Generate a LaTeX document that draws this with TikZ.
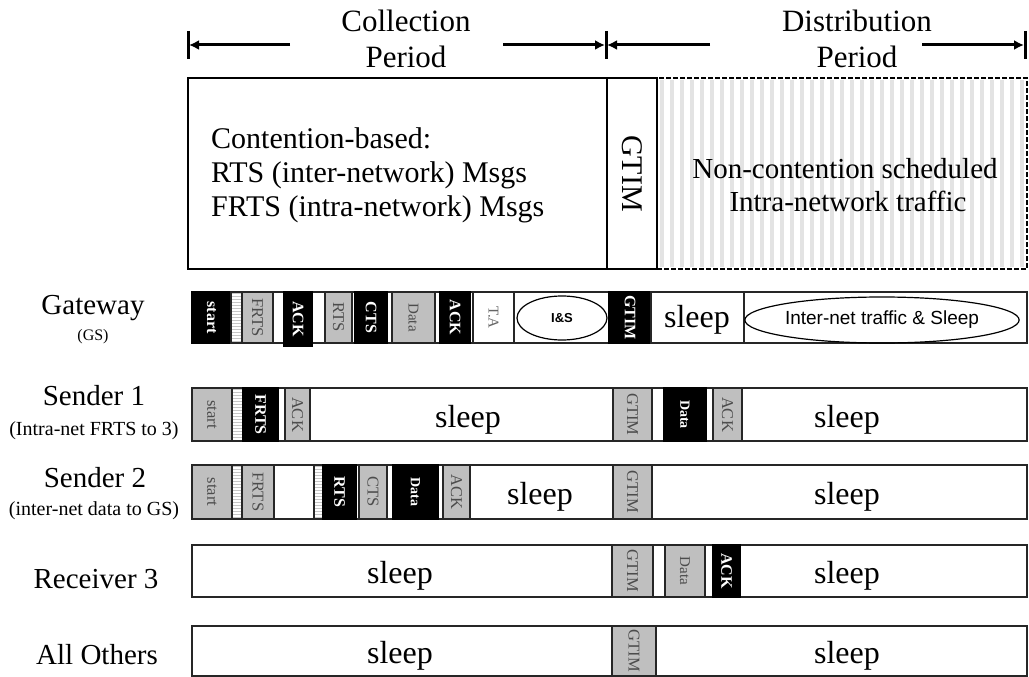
\documentclass[tikz,border=0pt]{standalone}
\usepackage{fontspec}
\setmainfont{Liberation Serif}
\newfontfamily\sansfam{Liberation Sans}
\usetikzlibrary{arrows.meta,shapes.geometric}
\newcommand{\fsz}[1]{\fontsize{#1}{#1}\selectfont}
% rotated cell: name x1 x2 y1 y2 style text
\newcommand{\cel}[7]{\pgfmathsetmacro\celw{#3-#2}\pgfmathsetmacro\celh{#5-#4}%
  \node[#6, rotate=-90, minimum width=\celh pt, minimum height=\celw pt] (#1) at ({(#2+#3)/2},{(#4+#5)/2}) {#7};}
% upright box: name x1 x2 y1 y2 style text
\newcommand{\bx}[7]{\pgfmathsetmacro\celw{#3-#2}\pgfmathsetmacro\celh{#5-#4}%
  \node[#6, minimum width=\celw pt, minimum height=\celh pt] (#1) at ({(#2+#3)/2},{(#4+#5)/2}) {#7};}
\tikzset{
  hdr/.style={font=\fsz{31}, inner sep=0},
  per/.style={line width=3pt, -{Latex[length=10pt,width=10pt]}},
  barline/.style={line width=3pt},
  bigbox/.style={draw=black, line width=2.5pt, inner sep=0},
  bigdash/.style={draw=black, line width=2.5pt, dash pattern=on 5pt off 2pt, inner sep=0},
  bigtxt/.style={font=\fsz{30}, inner sep=0},
  rowbox/.style={draw=black!85, line width=1.5pt, fill=white, inner sep=0},
  blk/.style={draw=black, line width=1.2pt, fill=black, text=white, font=\fsz{16}\bfseries, inner sep=0},
  gry/.style={draw=black!85, line width=1.2pt, fill=gray!50, text=black!70, font=\fsz{16.5}, inner sep=0},
  wht/.style={draw=black!85, line width=1.2pt, fill=white, text=black!60, font=\fsz{15}, inner sep=0},
  stripe/.style={draw=black!85, line width=1.2pt, fill=white, inner sep=0,
    path picture={\foreach \k in {1.5,4.5,...,60}{\draw[gray!45, line width=1.2pt]
      ([yshift=-\k pt]path picture bounding box.north west) -- ([yshift=-\k pt]path picture bounding box.north east);}}},
  oval/.style={ellipse, draw=black, line width=1.2pt, inner sep=0},
  slp/.style={font=\fsz{32}, inner sep=0},
  lbl/.style={font=\fsz{29}, inner sep=0},
  sublbl/.style={font=\fsz{20}, inner sep=0}
}
\begin{document}
\begin{tikzpicture}[x=1pt,y=-1pt]
\useasboundingbox (0,0) rectangle (1029,677);
% ---- period headers
\node[hdr, anchor=base] (colt) at (406,32) {Collection};
\node[hdr, anchor=base] (colp) at (406,67) {Period};
\node[hdr, anchor=base] (dstt) at (857,32) {Distribution};
\node[hdr, anchor=base] (dstp) at (857,67) {Period};
\coordinate (cL) at (189,45); \coordinate (cLa) at (290,45);
\coordinate (cRa) at (503,45); \coordinate (cR) at (605,45);
\coordinate (dLa) at (710,45); \coordinate (dRa) at (922,45);
\coordinate (dR) at (1024,45);
\coordinate (bAt) at (188,31); \coordinate (bAb) at (188,59);
\coordinate (bBt) at (606,31); \coordinate (bBb) at (606,59);
\coordinate (bCt) at (1025,31); \coordinate (bCb) at (1025,59);
\draw[barline] (bAt) -- (bAb);
\draw[barline] (bBt) -- (bBb);
\draw[barline] (bCt) -- (bCb);
\draw[per] (cLa) -- (cL);
\draw[per] (cRa) -- (cR);
\draw[per] (dLa) -- ([xshift=2pt]cR);
\draw[per] (dRa) -- (dR);
% ---- big box
\foreach \sx in {662,672,...,1022} \draw[gray!22, line width=4pt] (\sx,80) -- (\sx,267);
\bx{coll}{188}{607}{78}{269}{bigbox}{}
\bx{dist}{657}{1027}{78}{269}{bigdash}{}
\cel{gtimbig}{607}{657}{78}{269}{bigbox, font=\fsz{30}}{GTIM}
\node[bigtxt, anchor=base west] (ctA) at (211,148) {Contention-based:};
\node[bigtxt, anchor=base west] (ctB) at (211,182) {RTS (inter-network) Msgs};
\node[bigtxt, anchor=base west] (ctC) at (211,216) {FRTS (intra-network) Msgs};
\node[bigtxt, font=\fsz{29}, anchor=base] (ncA) at (845,178) {Non-contention scheduled};
\node[bigtxt, font=\fsz{29}, anchor=base] (ncB) at (848,211) {Intra-network traffic};
% ---- row labels
\node[lbl, anchor=base] (lgw) at (93,314) {Gateway};
\node[sublbl, font=\fsz{16}, anchor=base] (lgws) at (93,340) {(GS)};
\node[lbl, anchor=base] (lsa) at (94,405) {Sender 1};
\node[sublbl, anchor=base] (lsas) at (94,435) {(Intra-net FRTS to 3)};
\node[lbl, anchor=base] (lsb) at (95,487) {Sender 2};
\node[sublbl, anchor=base] (lsbs) at (94,515) {(inter-net data to GS)};
\node[lbl, anchor=base] (lrc) at (96,588) {Receiver 3};
\node[lbl, anchor=base] (lao) at (97,664) {All Others};
% ---- Gateway row
\bx{gw}{192}{1027}{292}{343}{rowbox}{}
\cel{gwstart}{192}{231}{292}{343}{blk}{start}
\bx{gwstr}{231}{242}{292}{343}{stripe}{}
\cel{gwfrts}{242}{273}{292}{343}{gry}{FRTS}
\cel{gwackA}{284}{312}{292}{346}{blk}{ACK}
\cel{gwrts}{325}{352}{292}{343}{gry}{RTS}
\cel{gwcts}{355}{387}{292}{343}{blk}{CTS}
\cel{gwdata}{392}{435}{292}{343}{gry, font=\fsz{15}}{Data}
\cel{gwackB}{440}{470}{292}{343}{blk}{ACK}
\cel{gwta}{473}{514}{292}{343}{wht}{T.A}
\bx{gwis}{514}{609}{292}{343}{rowbox}{}
\node[oval, minimum width=90pt, minimum height=44pt, font=\sansfam\fsz{13}\bfseries] (isell) at (562,318) {I\&S};
\cel{gwgtim}{609}{651}{292}{343}{blk}{GTIM}
\bx{gwsl}{651}{744}{292}{343}{rowbox}{}
\node[slp] (gwsleep) at (697,320) {sleep};
\bx{gwin}{744}{1027}{292}{343}{rowbox}{}
\node[oval, minimum width=272pt, minimum height=46pt, font=\sansfam\fsz{19}] (inell) at (882,320) {Inter-net traffic \& Sleep};
% ---- Sender 1 row
\bx{sa}{192}{1027}{388}{441}{rowbox}{}
\cel{sastart}{192}{232}{388}{441}{gry}{start}
\bx{sastr}{232}{243}{388}{441}{stripe}{}
\cel{safrts}{243}{278}{388}{441}{blk}{FRTS}
\cel{saack}{285}{310}{388}{441}{gry}{ACK}
\node[slp] (sasl1) at (468,420) {sleep};
\cel{sagtim}{613}{652}{388}{441}{gry}{GTIM}
\cel{sadata}{664}{706}{388}{441}{blk, font=\fsz{14}\bfseries}{Data}
\cel{saackB}{713}{742}{388}{441}{gry}{ACK}
\node[slp] (sasl2) at (847,420) {sleep};
% ---- Sender 2 row
\bx{sb}{192}{1027}{465}{519}{rowbox}{}
\cel{sbstart}{192}{232}{465}{519}{gry}{start}
\bx{sbstrA}{232}{242}{465}{519}{stripe}{}
\cel{sbfrts}{242}{274}{465}{519}{gry}{FRTS}
\bx{sbstrB}{314}{323}{465}{519}{stripe}{}
\cel{sbrts}{323}{356}{465}{519}{blk}{RTS}
\cel{sbcts}{359}{387}{465}{519}{gry}{CTS}
\cel{sbdata}{393}{438}{465}{519}{blk, font=\fsz{14}\bfseries}{Data}
\cel{sback}{443}{470}{465}{519}{gry}{ACK}
\node[slp] (sbsl1) at (540,497) {sleep};
\cel{sbgtim}{613}{652}{465}{519}{gry}{GTIM}
\node[slp] (sbsl2) at (847,497) {sleep};
% ---- Receiver 3 row
\bx{rc}{192}{1027}{545}{597}{rowbox}{}
\node[slp] (rcsl1) at (400,576) {sleep};
\cel{rcgtim}{612}{653}{545}{597}{gry}{GTIM}
\cel{rcdata}{665}{705}{545}{597}{gry, font=\fsz{15}}{Data}
\cel{rcack}{713}{740}{545}{597}{blk}{ACK}
\node[slp] (rcsl2) at (847,576) {sleep};
% ---- All Others row
\bx{ao}{192}{1027}{626}{676}{rowbox}{}
\node[slp] (aosl1) at (400,656) {sleep};
\cel{aogtim}{612}{656}{626}{676}{gry}{GTIM}
\node[slp] (aosl2) at (847,656) {sleep};
\end{tikzpicture}
\end{document}
